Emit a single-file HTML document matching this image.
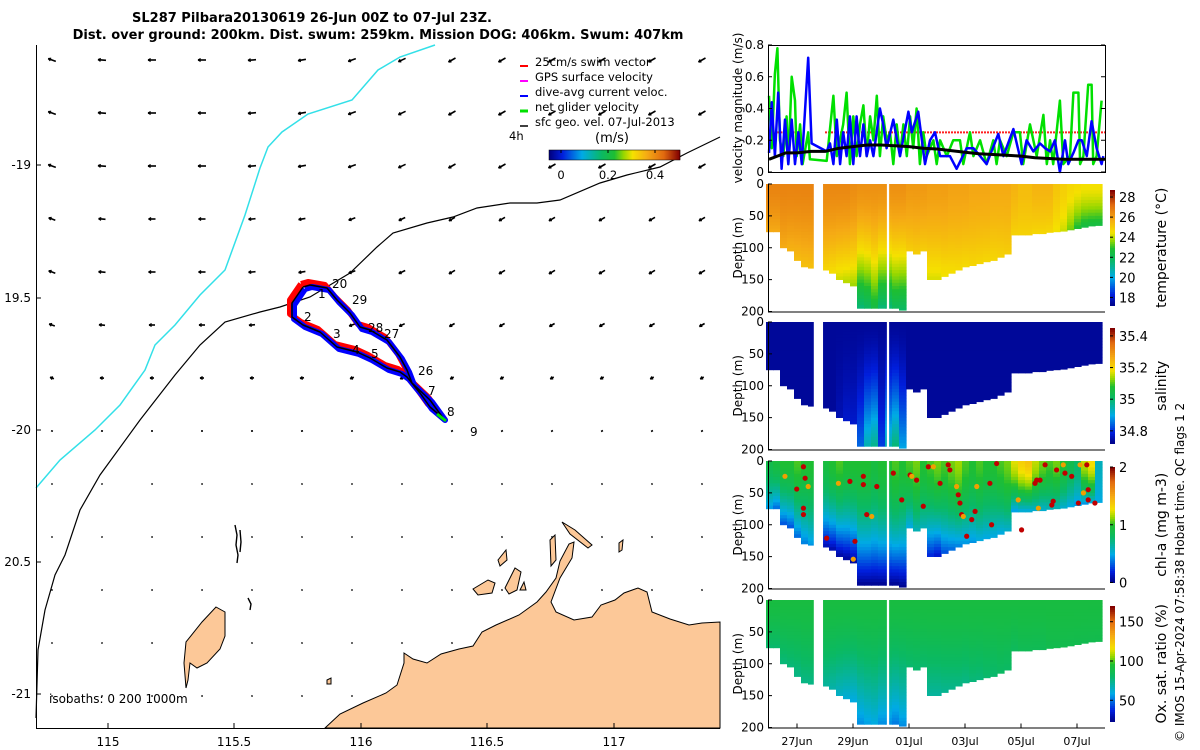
<!DOCTYPE html>
<html><head><meta charset="utf-8">
<style>
html,body{margin:0;padding:0;background:#fff;}
svg{display:block;font-family:"DejaVu Sans","Liberation Sans",sans-serif;}
</style></head>
<body>
<svg id="fig" width="1200" height="750" viewBox="0 0 1200 750" xmlns="http://www.w3.org/2000/svg">
  <rect x="0" y="0" width="1200" height="750" fill="#fff"/>
  <text x="312" y="22" text-anchor="middle" font-size="13" font-weight="bold">SL287 Pilbara20130619 26-Jun 00Z to 07-Jul 23Z.</text>
  <text x="378" y="39" text-anchor="middle" font-size="13" font-weight="bold">Dist. over ground: 200km. Dist. swum: 259km. Mission DOG: 406km. Swum: 407km</text>

  <g id="map">
    <g id="arrows"></g>
    <polyline fill="none" stroke="#33e0e8" stroke-width="1.5"
      points="36,488 60,460 95,430 120,405 145,370 155,345 175,325 200,295 225,270 245,215 260,168 268,147 282,132 308,114 352,100 378,70 400,57 435,45"/>
    <polyline fill="none" stroke="#000" stroke-width="1.2"
      points="36,718 38,650 45,610 55,575 65,555 80,510 100,475 140,420 175,375 200,345 225,322 260,312 280,307 310,297 350,273 377,247 393,233 427,223 453,217 477,208 510,203 537,203 560,200 600,183 627,175 660,167 687,153 720,137"/>
    <polygon fill="#fcc898" stroke="#000" stroke-width="1"
      points="325,728 340,714 363,703 386,693 397,685 404,663 404,653 413,659 427,663 441,654 459,649 473,646 482,632 496,625 519,615 537,602 546,592 556,578 560,561 569,544 574,542 572,558 560,578 551,602 556,612 574,620 592,617 601,605 615,600 624,593 638,588 647,592 652,612 670,619 689,625 702,623 720,622 720,728"/>
    <polygon fill="#fcc898" stroke="#000" stroke-width="1"
      points="216,607 225,612 225,636 220,649 207,663 197,668 190,663 188,680 186,688 184,663 186,642 202,622"/>
    <g fill="#fcc898" stroke="#000" stroke-width="1">
      <polygon points="473,589 488,580 495,583 492,593 478,595"/>
      <polygon points="505,588 515,568 521,572 517,590 509,594"/>
      <polygon points="498,560 506,550 507,560 500,566"/>
      <polygon points="520,590 524,582 526,590"/>
      <polygon points="562,522 575,530 592,545 588,548 570,534"/>
      <polygon points="550,540 555,535 556,560 551,566"/>
      <polygon points="619,543 623,540 622,550 619,552"/>
      <polygon points="327,680 331,678 331,684 327,684"/>
    </g>
    <g stroke="#000" stroke-width="1.4" fill="none">
      <polyline points="235,525 237,535 236,545 238,555 237,563"/>
      <polyline points="240,530 241,542 240,552"/>
      <polyline points="248,598 251,604 250,610"/>
    </g>
    <g fill="none" stroke-linejoin="round">
      <polyline transform="translate(-2,-3)" stroke="#ff0000" stroke-width="6"
        points="303,287 292,303 292,317 303,325 320,332 337,347 357,352 370,358 387,368 400,372 407,377 420,393 430,407 443,418 430,400 412,383 407,370 400,357 387,340 370,330 360,327 350,313 337,300 327,288 310,285 303,287"/>
      <polyline transform="translate(2,2)" stroke="#0000ff" stroke-width="6"
        points="303,287 292,303 292,317 303,325 320,332 337,347 357,352 370,358 387,368 400,372 407,377 420,393 430,407 443,418 430,400 412,383 407,370 400,357 387,340 370,330 360,327 350,313 337,300 327,288 310,285 303,287"/>
      <polyline stroke="#000" stroke-width="1.5"
        points="303,287 292,303 292,317 303,325 320,332 337,347 357,352 370,358 387,368 400,372 407,377 420,393 430,407 443,418 430,400 412,383 407,370 400,357 387,340 370,330 360,327 350,313 337,300 327,288 310,285 303,287"/>
      <line x1="437" y1="414" x2="446" y2="421" stroke="#00e000" stroke-width="3"/>
    </g>
    <g font-size="12">
      <text x="332" y="288">20</text><text x="318" y="298">1</text><text x="352" y="304">29</text>
      <text x="304" y="321">2</text><text x="333" y="338">3</text><text x="368" y="332">28</text>
      <text x="384" y="338">27</text><text x="352" y="354">4</text><text x="371" y="358">5</text>
      <text x="418" y="375">26</text><text x="428" y="395">7</text><text x="447" y="416">8</text>
      <text x="470" y="436">9</text>
    </g>
    <g font-size="11.5">
      <line x1="520" y1="66" x2="528" y2="66" stroke="#ff0000" stroke-width="2"/>
      <text x="535" y="66">25cm/s swim vector</text>
      <line x1="520" y1="81" x2="528" y2="81" stroke="#ff00ff" stroke-width="2"/>
      <text x="535" y="81">GPS surface velocity</text>
      <line x1="520" y1="96" x2="528" y2="96" stroke="#0000ff" stroke-width="2"/>
      <text x="535" y="96">dive-avg current veloc.</text>
      <line x1="520" y1="111" x2="528" y2="111" stroke="#00e000" stroke-width="3"/>
      <text x="535" y="111">net glider velocity</text>
      <line x1="520" y1="126" x2="528" y2="126" stroke="#000" stroke-width="1.5"/>
      <text x="535" y="126">sfc geo. vel. 07-Jul-2013</text>
      <text x="509" y="140">4h</text>
      <text x="595" y="142" font-size="13">(m/s)</text>
      <g id="mapcb"></g>
      <text x="561" y="179" text-anchor="middle">0</text>
      <text x="608" y="179" text-anchor="middle">0.2</text>
      <text x="655" y="179" text-anchor="middle">0.4</text>
    </g>
    <line x1="36.5" y1="45" x2="36.5" y2="728" stroke="#000"/>
    <line x1="36" y1="728.5" x2="720" y2="728.5" stroke="#000"/>
    <g font-size="12" stroke="#000">
      <line x1="108" y1="728" x2="108" y2="723"/><line x1="234" y1="728" x2="234" y2="723"/>
      <line x1="361" y1="728" x2="361" y2="723"/><line x1="487" y1="728" x2="487" y2="723"/>
      <line x1="614" y1="728" x2="614" y2="723"/>
      <line x1="36" y1="165" x2="41" y2="165"/><line x1="36" y1="298" x2="41" y2="298"/>
      <line x1="36" y1="430" x2="41" y2="430"/><line x1="36" y1="562" x2="41" y2="562"/>
      <line x1="36" y1="694" x2="41" y2="694"/>
    </g>
    <g font-size="12">
      <text x="108" y="746" text-anchor="middle">115</text><text x="234" y="746" text-anchor="middle">115.5</text>
      <text x="361" y="746" text-anchor="middle">116</text><text x="487" y="746" text-anchor="middle">116.5</text>
      <text x="614" y="746" text-anchor="middle">117</text>
      <text x="31" y="169" text-anchor="end">-19</text><text x="31" y="302" text-anchor="end">19.5</text>
      <text x="31" y="434" text-anchor="end">-20</text><text x="31" y="566" text-anchor="end">20.5</text>
      <text x="31" y="698" text-anchor="end">-21</text>
    </g>
    <text x="49" y="703" font-size="12">isobaths: 0   200  1000m</text>
  </g>

  <g id="vel"></g>
  <g id="sections"></g>
  <text transform="translate(1184,742) rotate(-90)" font-size="12">© IMOS 15-Apr-2024 07:58:38 Hobart time. QC flags 1  2</text>
</svg>
<script>
const greenDays=[0,0.1,0.21,0.3,0.39,0.51,0.63,0.69,0.81,0.93,0.99,1.11,1.2,1.4,1.46,2.06,2.3,2.42,2.65,2.77,2.89,3.01,3.13,3.25,3.37,3.49,3.61,3.73,3.85,3.96,4.08,4.2,4.32,4.44,4.56,4.68,4.8,4.92,5.04,5.15,5.27,5.39,5.51,5.63,5.87,5.99,6.11,6.35,6.58,6.82,6.94,7.18,7.3,7.54,7.77,8.01,8.13,8.25,8.49,8.73,8.96,9.08,9.32,9.56,9.8,9.92,10.04,10.15,10.39,10.51,10.75,10.87,11.05,11.11,11.23,11.4,11.52,11.58,11.7,11.88];
const greenVals=[0.48,0.15,0.62,0.78,0.2,0.1,0.35,0.05,0.6,0.45,0.1,0.3,0.05,0.25,0.08,0.07,0.48,0.1,0.3,0.5,0.05,0.35,0.1,0.3,0.42,0.1,0.35,0.2,0.48,0.1,0.35,0.2,0.25,0.05,0.3,0.1,0.3,0.1,0.35,0.15,0.4,0.05,0.25,0.1,0.2,0.05,0.2,0.1,0.2,0.2,0.05,0.25,0.1,0.2,0.05,0.2,0.05,0.2,0.1,0.25,0.25,0.05,0.3,0.1,0.36,0.05,0.2,0.05,0.45,0.05,0.1,0.5,0.5,0.05,0.1,0.55,0.55,0.05,0.1,0.45];
const blueDays=[0,0.1,0.21,0.33,0.45,0.57,0.69,0.81,0.93,1.05,1.17,1.4,1.52,2.06,2.18,2.3,2.42,2.54,2.65,2.77,2.89,3.01,3.13,3.25,3.37,3.49,3.61,3.73,3.96,4.08,4.2,4.44,4.68,4.98,5.1,5.33,5.57,5.75,5.93,6.11,6.46,6.7,7.06,7.3,7.54,7.77,8.19,8.37,8.73,9.02,9.2,9.44,9.68,9.86,10.04,10.21,10.39,10.57,10.69,10.87,11.05,11.17,11.35,11.52,11.7,11.88,11.94];
const blueVals=[0.12,0.44,0.1,0.5,0.02,0.33,0.05,0.33,0.05,0.25,0.05,0.72,0.18,0.13,0.18,0.05,0.33,0.05,0.25,0.1,0.35,0.05,0.35,0.1,0.3,0.1,0.2,0.1,0.4,0.3,0.15,0.33,0.1,0.38,0.25,0.38,0.05,0.2,0.25,0.1,0.1,0.02,0.15,0.15,0.1,0.05,0.24,0.1,0.27,0.05,0.2,0.13,0.18,0.15,0.13,0.2,0.0,0.2,0.05,0.12,0.2,0.2,0.1,0.32,0.15,0.05,0.1];
const blackDays=[0,0.3,0.6,1,1.5,2,2.5,3,3.5,4,4.5,5,5.5,6,6.5,7,7.5,8,8.5,9,9.5,10,10.5,11,11.5,12];
const blackVals=[0.08,0.1,0.12,0.12,0.13,0.13,0.15,0.16,0.17,0.17,0.165,0.16,0.15,0.145,0.135,0.125,0.115,0.11,0.105,0.1,0.09,0.085,0.08,0.08,0.08,0.08];
const swimSegments=[[0.3,1.1],[2.0,12]];
const swimSpeed=0.25;
const velTicks=[0,0.2,0.4,0.6,0.8];
const velTickLabels=["0","0.2","0.4","0.6","0.8"];

const colDays=[0,0.25,0.5,0.75,1,1.25,1.5,1.75,2,2.25,2.5,2.75,3,3.25,3.5,3.75,4,4.25,4.5,4.75,5,5.25,5.5,5.75,6,6.25,6.5,6.75,7,7.25,7.5,7.75,8,8.25,8.5,8.75,9,9.25,9.5,9.75,10,10.25,10.5,10.75,11,11.25,11.5,11.75];
const bottomDepth=[75,75,100,105,120,130,132,0,135,140,150,155,160,195,195,195,195,195,195,198,105,110,105,150,150,145,140,135,130,128,125,122,120,115,110,80,80,80,78,78,76,75,74,72,70,68,66,65];
const gaps=[[1.6,1.93],[4.21,4.29]];
const tempTop=[26.7,26.7,26.7,26.7,26.7,26.7,26.7,26.7,26.6,26.6,26.6,26.6,26.5,26.4,26.4,26.4,26.4,26.4,26.4,26.4,26.2,26.2,26.2,26.1,26.1,26.1,26,26,26,25.9,25.9,25.9,25.8,25.8,25.8,25.6,25.4,25.4,25.6,25.6,25.6,25.2,25,24.8,24.7,24.6,24.6,24.6];
const tempBot=[25.8,25.8,25.8,25.6,25.4,25.3,25.3,25.3,24.8,24.6,24.2,24,23.8,21.5,21.8,22.5,21.5,21.5,22,21.8,25,25,25,24.3,24.3,24.5,24.6,24.7,24.7,24.8,24.8,24.8,24.8,24.9,25,24.9,24.9,24.9,24.8,24.8,24.8,24.5,24.2,23.5,22.8,22.5,22.5,22.5];
const salTop=[34.74,34.74,34.74,34.74,34.74,34.74,34.74,34.74,34.74,34.74,34.74,34.74,34.74,34.74,34.74,34.74,34.74,34.74,34.74,34.74,34.74,34.74,34.74,34.74,34.74,34.74,34.74,34.74,34.74,34.74,34.74,34.74,34.74,34.74,34.74,34.74,34.74,34.74,34.74,34.74,34.74,34.74,34.74,34.74,34.74,34.74,34.74,34.74];
const salBot=[34.74,34.74,34.74,34.74,34.74,34.74,34.74,34.74,34.74,34.74,34.76,34.78,34.78,34.85,34.95,34.98,34.82,34.95,35.0,34.9,34.74,34.74,34.74,34.74,34.74,34.74,34.74,34.74,34.74,34.74,34.74,34.74,34.74,34.74,34.74,34.74,34.74,34.74,34.74,34.74,34.74,34.74,34.74,34.74,34.74,34.74,34.74,34.74];
const chlTop=[0.9,0.95,1.0,1.0,1.05,1.0,1.0,1.0,0.95,1.0,1.05,1.0,1.0,1.0,1.0,0.95,1.0,1.0,1.05,1.0,1.05,1.1,1.0,1.05,1.1,1.05,1.1,1.15,1.05,1.0,1.05,1.0,1.0,1.05,1.1,1.25,1.35,1.4,1.2,1.1,1.05,1.1,1.0,0.9,0.8,1.2,1.3,0.6];
const chlBot=[0.45,0.35,0.3,0.3,0.35,0.4,0.45,0.4,0.1,0.08,0.06,0.05,0.05,0.03,0.03,0.03,0.03,0.03,0.03,0.03,0.5,0.6,0.6,0.2,0.15,0.3,0.35,0.4,0.45,0.45,0.5,0.5,0.5,0.5,0.55,0.45,0.5,0.5,0.55,0.55,0.6,0.6,0.55,0.5,0.45,0.45,0.5,0.5];
const oxTop=[92,92,92,92,92,92,92,92,92,92,92,92,92,92,92,92,92,92,92,92,92,92,92,92,92,92,92,92,92,92,92,92,92,92,92,92,92,92,92,92,92,92,92,92,92,92,92,92];
const oxBot=[80,80,78,78,76,76,76,76,72,70,65,62,60,55,58,60,55,55,52,55,80,80,80,72,72,74,75,76,76,78,78,80,80,82,82,84,86,86,86,86,88,88,88,88,88,88,88,88];
const chlHighDays=[0.57,0.99,1.23,1.29,1.4,1.23,1.23,2.06,2.48,2.89,3.37,3.07,3.01,3.37,3.49,3.85,3.67,4.44,4.74,5.04,5.1,5.27,5.51,5.69,5.87,6.11,6.4,6.46,6.7,6.76,6.82,6.88,6.94,7.06,7.24,7.36,7.42,7.89,7.95,8.13,8.9,9.02,9.5,9.56,9.62,9.86,10.15,10.27,10.51,10.57,10.81,11.05,11.23,11.4,11.4,11.64,11.11,11.35,9.68,10.1];
const chlHighDepths=[24,44,9,27,40,74,84,121,35,32,24,126,154,37,84,40,87,19,61,22,24,30,71,9,9,35,6,14,40,53,66,84,87,118,92,79,40,35,100,4,61,108,35,30,74,6,63,14,6,19,24,66,50,45,61,66,6,6,30,69];

const arrowSpeedByRow=[8,8,8,7,7,6,4,2,1.5,1.5,1.5,1.5,1.5];
const arrowAngleByCol=[160,175,180,180,185,190,200,205,210,210,210,210,210,210];

const NS="http://www.w3.org/2000/svg";
function mk(tag,attrs,parent){const e=document.createElementNS(NS,tag);for(const k in attrs)e.setAttribute(k,attrs[k]);parent.appendChild(e);return e;}

const cmStops=[[0,[0,0,128]],[0.1,[0,30,220]],[0.25,[0,170,230]],[0.4,[10,185,100]],[0.5,[30,190,50]],[0.57,[150,215,0]],[0.64,[245,225,0]],[0.75,[245,170,20]],[0.88,[225,105,15]],[1,[130,0,0]]];
function cmap(t){t=Math.max(0,Math.min(1,t));for(let i=1;i<cmStops.length;i++){if(t<=cmStops[i][0]){const a=cmStops[i-1],b=cmStops[i];const f=(t-a[0])/(b[0]-a[0]);const c=a[1].map((v,j)=>Math.round(v+(b[1][j]-v)*f));return `rgb(${c[0]},${c[1]},${c[2]})`;}}return "rgb(130,0,0)";}

const ag=document.getElementById('arrows');
for(let r=0;r<arrowSpeedByRow.length;r++){for(let c=0;c<arrowAngleByCol.length;c++){
  const x0=52+50*c,y0=60+53*r;const L=arrowSpeedByRow[r];const a=arrowAngleByCol[c]*Math.PI/180;
  const dx=Math.cos(a)*L/2, dy=-Math.sin(a)*L/2;
  const ln=mk('line',{x1:(x0-dx).toFixed(1),y1:(y0-dy).toFixed(1),x2:(x0+dx).toFixed(1),y2:(y0+dy).toFixed(1),stroke:'#000','stroke-width':1.6},ag);
  
  
  if(L>3){const hx=x0+dx,hy=y0+dy;const b1=a+Math.PI-0.5,b2=a+Math.PI+0.5;
    mk('line',{x1:hx,y1:hy,x2:hx+3*Math.cos(b1),y2:hy-3*Math.sin(b1),stroke:'#000','stroke-width':1.2},ag);
    mk('line',{x1:hx,y1:hy,x2:hx+3*Math.cos(b2),y2:hy-3*Math.sin(b2),stroke:'#000','stroke-width':1.2},ag);}
}}

const mcb=document.getElementById('mapcb');
for(let i=0;i<131;i++){mk('rect',{x:549+i,y:150,width:1.2,height:10,fill:cmap(i/130)},mcb);}
mk('rect',{x:549,y:150,width:131,height:10,fill:'none',stroke:'#000','stroke-width':0.5},mcb);
[561,608,655].forEach(x=>mk('line',{x1:x,y1:150,x2:x,y2:153,stroke:'#000'},mcb));

const VX0=768,VX1=1105,VY0=45,VY1=172;
const xDay=d=>769+d*28;
const yVel=v=>VY1-v/0.8*(VY1-VY0);
const vg=document.getElementById('vel');
function poly(days,vals,color,w,name,parent){const p=mk('polyline',{points:days.map((d,i)=>xDay(d).toFixed(1)+','+yVel(vals[i]).toFixed(1)).join(' '),fill:'none',stroke:color,'stroke-width':w,'stroke-linejoin':'round'},parent);return p;}
swimSegments.forEach(s=>{const l=mk('line',{x1:xDay(s[0]),x2:xDay(s[1]),y1:yVel(swimSpeed),y2:yVel(swimSpeed),stroke:'#ff2020','stroke-width':2,'stroke-dasharray':'2,1'},vg);});
poly(greenDays,greenVals,'#00e000',2.5,'net-glider-velocity-line',vg);
poly(blueDays,blueVals,'#0000ff',2.5,'dive-avg-current-line',vg);
poly(blackDays,blackVals,'#000',3,'surface-geo-velocity-line',vg);
mk('rect',{x:VX0+0.5,y:VY0+0.5,width:VX1-VX0,height:VY1-VY0,fill:'none',stroke:'#000'},vg);
velTicks.forEach((v,i)=>{const y=yVel(v);mk('line',{x1:VX0,x2:VX0+4,y1:y,y2:y,stroke:'#000'},vg);mk('line',{x1:VX1,x2:VX1-4,y1:y,y2:y,stroke:'#000'},vg);
  const t=mk('text',{x:VX0-4,y:y+4,'text-anchor':'end','font-size':12},vg);t.textContent=velTickLabels[i];});
{const t=mk('text',{transform:`translate(742,108) rotate(-90)`,'text-anchor':'middle','font-size':12},vg);t.textContent='velocity magnitude (m/s)';}

const sg=document.getElementById('sections');
const panels=[
 {top:184,top_v:tempTop,bot_v:tempBot,vmin:17.2,vmax:28.7,ticks:[28,26,24,22,20,18],labels:["28","26","24","22","20","18"],title:'temperature (°C)',name:'temperature'},
 {top:322,top_v:salTop,bot_v:salBot,vmin:34.72,vmax:35.45,ticks:[35.4,35.2,35,34.8],labels:["35.4","35.2","35","34.8"],title:'salinity',name:'salinity'},
 {top:461,top_v:chlTop,bot_v:chlBot,vmin:0,vmax:2,ticks:[2,1,0],labels:["2","1","0"],title:'chl-a (mg m-3)',name:'chlorophyll'},
 {top:600,top_v:oxTop,bot_v:oxBot,vmin:23,vmax:170,ticks:[150,100,50],labels:["150","100","50"],title:'Ox. sat. ratio (%)',name:'oxygen'}
];
const depthTicks=[0,50,100,150,200];
const depthLabels=["0","50","100","150","200"];
const dateTickDays=[1,3,5,7,9,11];
const dateLabels=["27Jun","29Jun","01Jul","03Jul","05Jul","07Jul"];
const PH=127.5;
panels.forEach((P,pi)=>{
  const g=mk('g',{},sg);
  const yD=z=>P.top+z/200*PH;
  const norm=v=>(v-P.vmin)/(P.vmax-P.vmin);
  for(let c=0;c<colDays.length;c++){
    const bd=bottomDepth[c];if(!bd)continue;
    const x=xDay(colDays[c])-3, w=28*0.25+0.6;
    for(let z=0;z<bd;z+=5){
      const f=Math.pow(Math.min(1,(z+2.5)/bd),1.6);
      const v=P.top_v[c]+(P.bot_v[c]-P.top_v[c])*f;
      const r=mk('rect',{x:x.toFixed(1),y:yD(z).toFixed(1),width:w.toFixed(1),height:(yD(Math.min(z+5,bd))-yD(z)+0.4).toFixed(1),fill:cmap(norm(v))},g);
      
      
    }
  }
  if(P.name==='chlorophyll'){
    chlHighDays.forEach((d,i)=>{const ci=mk('circle',{cx:xDay(d),cy:yD(chlHighDepths[i]),r:2.6,fill:i%4===0?'#f0a000':'#c00000'},g);});
  }
  gaps.forEach(gp=>mk('rect',{x:xDay(gp[0]),y:P.top-2,width:xDay(gp[1])-xDay(gp[0]),height:PH+2,fill:'#fff'},g));
  mk('rect',{x:760,y:P.top-3,width:5,height:PH+4,fill:'#fff'},g);
  mk('line',{x1:VX0+0.5,x2:VX0+0.5,y1:P.top,y2:P.top+PH,stroke:'#000'},g);
  mk('line',{x1:VX0,x2:VX1,y1:P.top+PH+0.5,y2:P.top+PH+0.5,stroke:'#000'},g);
  depthTicks.forEach((z,i)=>{const y=yD(z);mk('line',{x1:VX0,x2:VX0+4,y1:y,y2:y,stroke:'#000'},g);
    const t=mk('text',{x:VX0-4,y:y+4,'text-anchor':'end','font-size':12},g);t.textContent=depthLabels[i];});
  const yt=mk('text',{transform:`translate(742,${P.top+PH/2}) rotate(-90)`,'text-anchor':'middle','font-size':12},g);yt.textContent='Depth (m)';
  const cbT=P.top+6, cbB=P.top+PH-6, cbH=cbB-cbT;
  for(let i=0;i<60;i++){mk('rect',{x:1110,y:(cbT+cbH*i/60).toFixed(1),width:5,height:(cbH/60+0.5).toFixed(1),fill:cmap(1-i/60)},g);}
  const cbY=v=>cbB-norm(v)*cbH;
  P.ticks.forEach((v,i)=>{const y=cbY(v);mk('line',{x1:1110,x2:1113,y1:y,y2:y,stroke:'#000'},g);
    const t=mk('text',{x:1119,y:y+5,'font-size':13},g);t.textContent=P.labels[i];});
  const ct=mk('text',{transform:`translate(1166,${P.top+PH/2}) rotate(-90)`,'text-anchor':'middle','font-size':14},g);ct.textContent=P.title;
  if(pi===3){dateTickDays.forEach((d,i)=>{const x=xDay(d);mk('line',{x1:x,x2:x,y1:P.top+PH,y2:P.top+PH-4,stroke:'#000'},g);
    const t=mk('text',{x:x,y:745,'text-anchor':'middle','font-size':11},g);t.textContent=dateLabels[i];});}
});
</script>
</body></html>
